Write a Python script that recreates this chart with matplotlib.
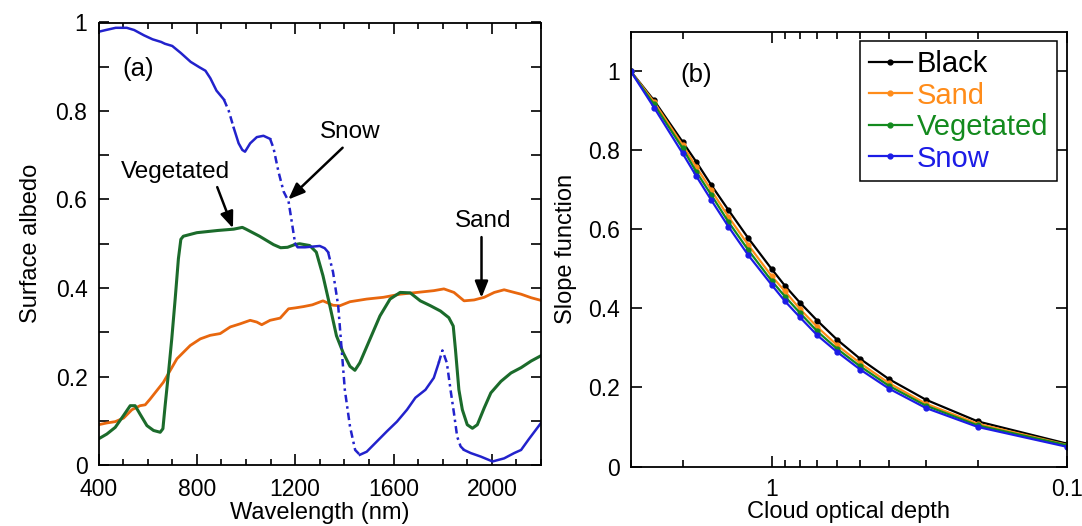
import matplotlib
matplotlib.use("Agg")
import matplotlib.pyplot as plt
from matplotlib.ticker import MultipleLocator, FuncFormatter, LogLocator, NullFormatter

plt.rcParams['font.family'] = ['Liberation Sans', 'DejaVu Sans']

# ---- (a) surface albedo spectra ----
snow_wl = [400, 430, 470, 515, 545, 585, 620, 655, 670, 700, 735, 775, 810, 835, 855,
           880, 910, 930, 950, 970, 985, 996, 1017, 1044, 1071, 1098, 1112, 1132, 1153,
           1173, 1186, 1200, 1210, 1240, 1280, 1300, 1320, 1334, 1354, 1375, 1388, 1402,
           1423, 1444, 1463, 1491, 1532, 1573, 1614, 1655, 1689, 1730, 1764, 1784, 1799,
           1817, 1832, 1846, 1859, 1873, 1887, 1914, 1955, 2003, 2050, 2091, 2119, 2150, 2200]
snow_alb = [0.979, 0.983, 0.988, 0.988, 0.983, 0.971, 0.962, 0.956, 0.952, 0.947, 0.931,
            0.911, 0.899, 0.891, 0.874, 0.846, 0.826, 0.800, 0.762, 0.727, 0.712, 0.708,
            0.727, 0.741, 0.744, 0.737, 0.716, 0.663, 0.618, 0.596, 0.550, 0.500, 0.492,
            0.492, 0.494, 0.495, 0.490, 0.481, 0.436, 0.360, 0.269, 0.170, 0.087, 0.034,
            0.023, 0.030, 0.053, 0.076, 0.098, 0.125, 0.152, 0.170, 0.197, 0.231, 0.259,
            0.231, 0.170, 0.117, 0.064, 0.042, 0.034, 0.027, 0.019, 0.008, 0.015, 0.027,
            0.034, 0.058, 0.095]

veg_wl = [400, 434, 468, 502, 529, 549, 569, 597, 624, 651, 662, 671, 685, 698, 712, 725,
          735, 745, 800, 885, 950, 985, 1000, 1055, 1112, 1141, 1169, 1198, 1218, 1259,
          1286, 1313, 1341, 1368, 1395, 1423, 1443, 1463, 1504, 1545, 1586, 1627, 1668,
          1709, 1750, 1791, 1825, 1843, 1852, 1866, 1880, 1900, 1921, 1941, 1969, 1996,
          2037, 2078, 2119, 2160, 2200]
veg_alb = [0.059, 0.070, 0.085, 0.112, 0.134, 0.134, 0.115, 0.089, 0.078, 0.074, 0.082,
           0.134, 0.210, 0.285, 0.376, 0.466, 0.510, 0.517, 0.525, 0.530, 0.533, 0.537,
           0.533, 0.517, 0.498, 0.491, 0.492, 0.498, 0.500, 0.496, 0.481, 0.428, 0.360,
           0.292, 0.254, 0.223, 0.214, 0.231, 0.284, 0.337, 0.375, 0.390, 0.389, 0.371,
           0.360, 0.348, 0.333, 0.314, 0.261, 0.170, 0.125, 0.091, 0.083, 0.091, 0.129,
           0.163, 0.189, 0.208, 0.220, 0.235, 0.247]

sand_wl = [400, 434, 468, 502, 536, 569, 590, 610, 637, 664, 692, 719, 746, 773, 814, 854,
           895, 936, 976, 1017, 1044, 1064, 1098, 1139, 1173, 1200, 1234, 1270, 1313, 1354,
           1382, 1423, 1491, 1559, 1627, 1696, 1764, 1805, 1846, 1887, 1928, 1969, 2010,
           2050, 2091, 2119, 2160, 2200]
sand_alb = [0.091, 0.095, 0.098, 0.106, 0.125, 0.134, 0.136, 0.149, 0.168, 0.187, 0.214,
            0.240, 0.255, 0.270, 0.285, 0.293, 0.297, 0.312, 0.319, 0.327, 0.323, 0.317,
            0.327, 0.332, 0.353, 0.355, 0.358, 0.362, 0.371, 0.361, 0.360, 0.369, 0.375,
            0.379, 0.386, 0.390, 0.394, 0.398, 0.390, 0.371, 0.373, 0.379, 0.390, 0.396,
            0.390, 0.386, 0.378, 0.372]

# wavelength ranges of the snow spectrum shown dash-dotted
snow_dashed = [(910, 950), (1098, 1200), (1334, 1463), (1784, 1887)]

# ---- (b) slope function vs cloud optical depth ----
tau = [3, 2.5, 2, 1.8, 1.6, 1.4, 1.2, 1, 0.9, 0.8, 0.7, 0.6, 0.5, 0.4, 0.3, 0.2, 0.1]
slope_black = [1.0, 0.926, 0.821, 0.771, 0.712, 0.649, 0.578, 0.500, 0.457, 0.414, 0.369,
               0.321, 0.272, 0.221, 0.169, 0.114, 0.058]
slope_sand = [1.0, 0.922, 0.813, 0.758, 0.699, 0.632, 0.561, 0.482, 0.443, 0.398, 0.353,
              0.307, 0.261, 0.211, 0.159, 0.108, 0.055]
slope_veg = [1.0, 0.916, 0.805, 0.746, 0.687, 0.619, 0.548, 0.470, 0.430, 0.388, 0.342,
             0.298, 0.253, 0.204, 0.154, 0.104, 0.054]
slope_snow = [1.0, 0.908, 0.792, 0.735, 0.674, 0.607, 0.535, 0.460, 0.418, 0.377, 0.332,
              0.290, 0.245, 0.197, 0.148, 0.100, 0.050]

W, H = 1082, 526
fig = plt.figure(figsize=(W / 100, H / 100), dpi=100)

def px_axes(left, right, top, bottom):
    return fig.add_axes([left / W, 1 - bottom / H, (right - left) / W, (bottom - top) / H])

ax1 = px_axes(98.5, 541, 22.5, 465)
ax2 = px_axes(630.7, 1066.7, 31.7, 466.5)

for ax in (ax1, ax2):
    for sp in ax.spines.values():
        sp.set_linewidth(1.3)

TICK_FS = 16.5
LABEL_FS = 17
NOTE_FS = 17.5

# panel (a)
c_snow, c_veg, c_sand = '#2222cc', '#1b6b2b', '#e8670e'
ax1.plot(sand_wl, sand_alb, color=c_sand, lw=2.0)
ax1.plot(veg_wl, veg_alb, color=c_veg, lw=2.2)

# snow spectrum: solid pieces plus dash-dotted pieces over the absorption bands
edges = [snow_wl[0]]
for a, b in snow_dashed:
    edges += [a, b]
edges.append(snow_wl[-1])
for k in range(len(edges) - 1):
    lo, hi = edges[k], edges[k + 1]
    idx = [i for i, w in enumerate(snow_wl) if lo <= w <= hi]
    style = (0, (3, 1.6, 1, 1.6)) if k % 2 == 1 else '-'
    ax1.plot([snow_wl[i] for i in idx], [snow_alb[i] for i in idx],
             color=c_snow, lw=1.8, ls=style)

ax1.set_xlim(400, 2200)
ax1.set_ylim(0, 1)
ax1.xaxis.set_major_locator(MultipleLocator(400))
ax1.xaxis.set_minor_locator(MultipleLocator(100))
ax1.yaxis.set_major_locator(MultipleLocator(0.2))
ax1.yaxis.set_minor_locator(MultipleLocator(0.1))
ax1.yaxis.set_major_formatter(FuncFormatter(lambda v, _: '%g' % round(v, 3)))
ax1.tick_params(which='both', direction='in', top=True, right=True, width=1.2,
                labelsize=TICK_FS)
ax1.tick_params(axis='x', which='major', length=8, pad=9)
ax1.tick_params(axis='x', which='minor', length=4)
ax1.tick_params(axis='y', which='both', length=7, pad=8)
ax1.set_xlabel('Wavelength (nm)', fontsize=LABEL_FS, labelpad=1)
ax1.set_ylabel('Surface albedo', fontsize=LABEL_FS, labelpad=10)

arrow = dict(arrowstyle='-|>,head_length=0.55,head_width=0.22', color='black', lw=1.8,
             mutation_scale=18, shrinkA=0, shrinkB=0)
ax1.text(561, 0.895, '(a)', fontsize=18.5, ha='center', va='center')
ax1.text(712, 0.662, 'Vegetated', fontsize=NOTE_FS, ha='center', va='center')
ax1.annotate('', xy=(947, 0.535), xytext=(883, 0.628), arrowprops=arrow)
ax1.text(1424, 0.753, 'Snow', fontsize=NOTE_FS, ha='center', va='center')
ax1.annotate('', xy=(1172, 0.600), xytext=(1393, 0.717), arrowprops=arrow)
ax1.text(1964, 0.551, 'Sand', fontsize=NOTE_FS, ha='center', va='center')
ax1.annotate('', xy=(1958, 0.378), xytext=(1958, 0.515), arrowprops=arrow)

# panel (b)
series = [
    ('Black', slope_black, '#000000'),
    ('Sand', slope_sand, '#ff8c1a'),
    ('Vegetated', slope_veg, '#138a1e'),
    ('Snow', slope_snow, '#1c1ce6'),
]
for name, vals, col in series:
    ax2.plot(tau, vals, color=col, lw=1.6, marker='o', ms=3.5, label=name)

ax2.set_xscale('log')
ax2.set_xlim(3, 0.1)
ax2.set_ylim(0, 1.1)
ax2.xaxis.set_major_locator(LogLocator(base=10))
ax2.xaxis.set_minor_locator(LogLocator(base=10, subs=range(2, 10)))
ax2.xaxis.set_major_formatter(FuncFormatter(lambda v, _: '%g' % v))
ax2.xaxis.set_minor_formatter(NullFormatter())
ax2.yaxis.set_major_locator(MultipleLocator(0.2))
ax2.yaxis.set_major_formatter(FuncFormatter(lambda v, _: '%g' % round(v, 3)))
ax2.tick_params(which='both', direction='in', top=True, right=True, width=1.2,
                labelsize=TICK_FS)
ax2.tick_params(axis='x', which='major', length=8, pad=8)
ax2.tick_params(axis='x', which='minor', length=5)
ax2.tick_params(axis='y', which='major', length=8, pad=8)
ax2.set_xlabel('Cloud optical depth', fontsize=LABEL_FS, labelpad=0)
ax2.set_ylabel('Slope function', fontsize=LABEL_FS, labelpad=8)
ax2.text(0.15, 0.90, '(b)', fontsize=18.5, ha='center', va='center', transform=ax2.transAxes)

leg = ax2.legend(loc='upper right', bbox_to_anchor=(1, 1), borderaxespad=0.33,
                 fontsize=21, handlelength=1.48, handletextpad=0.17, labelspacing=0.12,
                 borderpad=0.3, fancybox=False, framealpha=1, edgecolor='black')
leg.get_frame().set_linewidth(1.1)
for txt, (_, _, col) in zip(leg.get_texts(), series):
    txt.set_color(col)

fig.savefig('out.png', dpi=100)
